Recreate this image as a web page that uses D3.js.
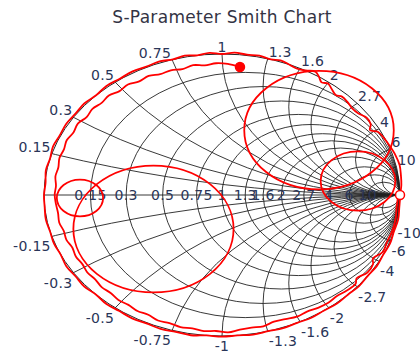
<!DOCTYPE html>
<html lang="en">
  <head>
    <meta charset="UTF-8" />
    <title>S-Parameter Smith Chart</title>
    <style>
      body {
        margin: 0;
        background: #fff;
      }
      svg {
        display: block;
      }
      text {
        font-family: "DejaVu Sans", Verdana, sans-serif;
      }
    </style>
  </head>
  <body>
    <div id="chart"></div>
    <script src="https://cdnjs.cloudflare.com/ajax/libs/d3/7.8.5/d3.min.js"></script>
    <script>
      // grid values (resistance circles and reactance arcs)
      var gridValues = [0.15, 0.3, 0.5, 0.75, 1, 1.3, 1.6, 2, 2.7, 4, 6, 10];
      var gridLabels = ["0.15", "0.3", "0.5", "0.75", "1", "1.3", "1.6", "2", "2.7", "4", "6", "10"];

      // outer trace, [magnitude, angle in degrees]
      var s11 = [
        [1.0, 0], [1.01, 4], [1.015, 8], [1.02, 12], [1.015, 16], [1.005, 20],
        [0.995, 24], [0.985, 27], [0.95, 29], [0.975, 31], [0.98, 34], [0.96, 37],
        [0.955, 40], [0.965, 43], [0.97, 46], [0.955, 48], [0.975, 51], [0.99, 53],
        [0.975, 55], [1.0, 57], [1.02, 59], [1.0, 62], [0.99, 65], [1.0, 68],
        [1.01, 71], [1.0, 74], [1.01, 78], [1.005, 82], [1.012, 86], [1.0, 90],
        [1.01, 94], [1.0, 98], [1.01, 102], [1.0, 106], [1.01, 110], [1.005, 115],
        [1.01, 120], [1.005, 125], [1.01, 130], [1.0, 135], [1.01, 140], [1.005, 145],
        [1.01, 150], [1.005, 155], [1.01, 160], [1.0, 165], [1.005, 170], [0.995, 175],
        [1.0, 180], [1.0, 185], [1.005, 190], [1.0, 195], [1.005, 200], [1.0, 205],
        [1.01, 210], [1.005, 215], [1.01, 220], [1.0, 225], [1.01, 230], [1.005, 235],
        [1.01, 240], [1.005, 245], [1.01, 250], [1.005, 255], [1.01, 260], [1.0, 265],
        [1.005, 270], [1.0, 275], [1.005, 280], [1.0, 285], [1.005, 290], [1.0, 295],
        [1.005, 300], [1.0, 305], [1.005, 310], [1.0, 315], [1.005, 320], [1.0, 325],
        [1.005, 330], [1.0, 335], [1.005, 340], [1.0, 345], [1.005, 350], [1.0, 355],
        [1.0, 358]
      ];

      // inner trace, [magnitude, angle in degrees]
      var s22 = [
        [0.914, 84], [0.93, 88], [0.935, 92], [0.925, 96], [0.935, 100], [0.92, 104],
        [0.93, 108], [0.925, 112], [0.94, 116], [0.93, 120], [0.945, 124], [0.935, 128],
        [0.95, 132], [0.94, 136], [0.95, 140], [0.94, 144], [0.955, 148], [0.945, 152],
        [0.955, 156], [0.945, 160], [0.95, 164], [0.94, 168], [0.945, 172], [0.935, 176],
        [0.94, 180], [0.935, 184], [0.93, 188], [0.935, 192], [0.925, 196], [0.93, 200],
        [0.92, 204], [0.93, 208], [0.925, 212], [0.935, 216], [0.93, 220], [0.94, 224],
        [0.935, 228], [0.945, 232], [0.94, 236], [0.95, 240], [0.945, 244], [0.96, 248],
        [0.955, 252], [0.965, 256], [0.96, 260], [0.97, 264], [0.965, 268], [0.975, 272],
        [0.96, 276], [0.955, 280], [0.96, 284], [0.945, 288], [0.95, 292], [0.96, 296],
        [0.955, 300], [0.965, 304], [0.97, 308], [0.965, 312], [0.975, 316], [0.98, 320],
        [0.96, 322], [0.985, 326], [0.98, 330], [0.96, 332], [0.99, 336], [0.985, 340],
        [0.99, 345], [0.99, 350], [0.985, 355], [0.99, 360]
      ];

      // circles drawn on the chart: centre (re, im) and radius
      var circles = [
        { re: -0.385, im: -0.241, r: 0.45 },
        { re: -0.798, im: -0.021, r: 0.13 },
        { re: 0.545, im: 0.46, r: 0.42 },
        { re: 0.764, im: 0.099, r: 0.21 }
      ];

      // markers: [re, im, filled]
      var markers = [
        [0.101, 0.908, true],
        [1.0, 0.0, false]
      ];

      var width = 420,
        height = 354;

      var x = d3.scaleLinear().domain([-1, 1]).range([44, 400]);
      var y = d3.scaleLinear().domain([-1, 1]).range([336, 54]);

      var svg = d3
        .select("#chart")
        .append("svg")
        .attr("width", width)
        .attr("height", height);

      svg
        .append("defs")
        .append("clipPath")
        .attr("id", "rim")
        .append("ellipse")
        .attr("cx", x(0))
        .attr("cy", y(0))
        .attr("rx", x(1) - x(0))
        .attr("ry", y(0) - y(1));

      //title
      svg
        .append("text")
        .attr("x", 222)
        .attr("y", 23)
        .attr("text-anchor", "middle")
        .attr("font-size", "17px")
        .attr("letter-spacing", "0.3px")
        .attr("fill", "#333344")
        .text("S-Parameter Smith Chart");

      //grid
      var grid = svg
        .append("g")
        .attr("clip-path", "url(#rim)")
        .attr("fill", "none")
        .attr("stroke", "#222")
        .attr("stroke-width", 0.9);

      grid
        .selectAll(".rcircle")
        .data(gridValues)
        .enter()
        .append("ellipse")
        .attr("class", "rcircle")
        .attr("cx", function (d) {
          return x(d / (1 + d));
        })
        .attr("cy", y(0))
        .attr("rx", function (d) {
          return x(1 / (1 + d)) - x(0);
        })
        .attr("ry", function (d) {
          return y(0) - y(1 / (1 + d));
        });

      var reactance = gridValues.concat(
        gridValues.map(function (v) {
          return -v;
        })
      );

      grid
        .selectAll(".xarc")
        .data(reactance)
        .enter()
        .append("ellipse")
        .attr("class", "xarc")
        .attr("cx", x(1))
        .attr("cy", function (d) {
          return y(1 / d);
        })
        .attr("rx", function (d) {
          return x(1 / Math.abs(d)) - x(0);
        })
        .attr("ry", function (d) {
          return y(0) - y(1 / Math.abs(d));
        });

      grid
        .append("line")
        .attr("x1", x(-1))
        .attr("x2", x(1))
        .attr("y1", y(0))
        .attr("y2", y(0));

      svg
        .append("ellipse")
        .attr("cx", x(0))
        .attr("cy", y(0))
        .attr("rx", x(1) - x(0))
        .attr("ry", y(0) - y(1))
        .attr("fill", "none")
        .attr("stroke", "#222")
        .attr("stroke-width", 1);

      //labels
      var labelColor = "#2a3558";
      var labels = svg
        .append("g")
        .attr("font-size", "14px")
        .attr("letter-spacing", "0.3px")
        .attr("fill", labelColor);

      labels
        .selectAll(".rlabel")
        .data(gridValues)
        .enter()
        .append("text")
        .attr("class", "rlabel")
        .attr("x", function (d) {
          return x((d - 1) / (d + 1));
        })
        .attr("y", y(0) + 5)
        .attr("text-anchor", "middle")
        .text(function (d, i) {
          return gridLabels[i];
        });

      var xLabels = [];
      gridValues.forEach(function (v, i) {
        xLabels.push({ v: v, text: gridLabels[i] });
        xLabels.push({ v: -v, text: "-" + gridLabels[i] });
      });

      labels
        .selectAll(".xlabel")
        .data(xLabels)
        .enter()
        .append("text")
        .attr("class", "xlabel")
        .each(function (d) {
          var re = (d.v * d.v - 1) / (d.v * d.v + 1);
          var im = (2 * d.v) / (d.v * d.v + 1);
          var anchor = Math.abs(re) < 0.05 ? "middle" : re < 0 ? "end" : "start";
          var dx = anchor === "middle" ? 0 : re < 0 ? -1 : 1;
          d3.select(this)
            .attr("x", x(re) + dx)
            .attr("y", d.v > 0 ? y(im) - 2 : y(im) + 15)
            .attr("text-anchor", anchor)
            .text(d.text);
        });

      //traces
      var polar = d3
        .line()
        .x(function (d) {
          return x(d[0] * Math.cos((d[1] * Math.PI) / 180));
        })
        .y(function (d) {
          return y(d[0] * Math.sin((d[1] * Math.PI) / 180));
        })
        .curve(d3.curveCatmullRom);

      var traces = svg
        .append("g")
        .attr("fill", "none")
        .attr("stroke", "#ff0000")
        .attr("stroke-width", 1.8);

      traces.append("path").attr("d", polar(s11));
      traces.append("path").attr("d", polar(s22));

      traces
        .selectAll(".circ")
        .data(circles)
        .enter()
        .append("ellipse")
        .attr("class", "circ")
        .attr("cx", function (d) {
          return x(d.re);
        })
        .attr("cy", function (d) {
          return y(d.im);
        })
        .attr("rx", function (d) {
          return x(d.r) - x(0);
        })
        .attr("ry", function (d) {
          return y(0) - y(d.r);
        });

      svg
        .selectAll(".marker")
        .data(markers)
        .enter()
        .append("circle")
        .attr("class", "marker")
        .attr("cx", function (d) {
          return x(d[0]);
        })
        .attr("cy", function (d) {
          return y(d[1]);
        })
        .attr("r", 4.5)
        .attr("fill", function (d) {
          return d[2] ? "#ff0000" : "#fff";
        })
        .attr("stroke", "#ff0000")
        .attr("stroke-width", 1.5);
    </script>
  </body>
</html>
